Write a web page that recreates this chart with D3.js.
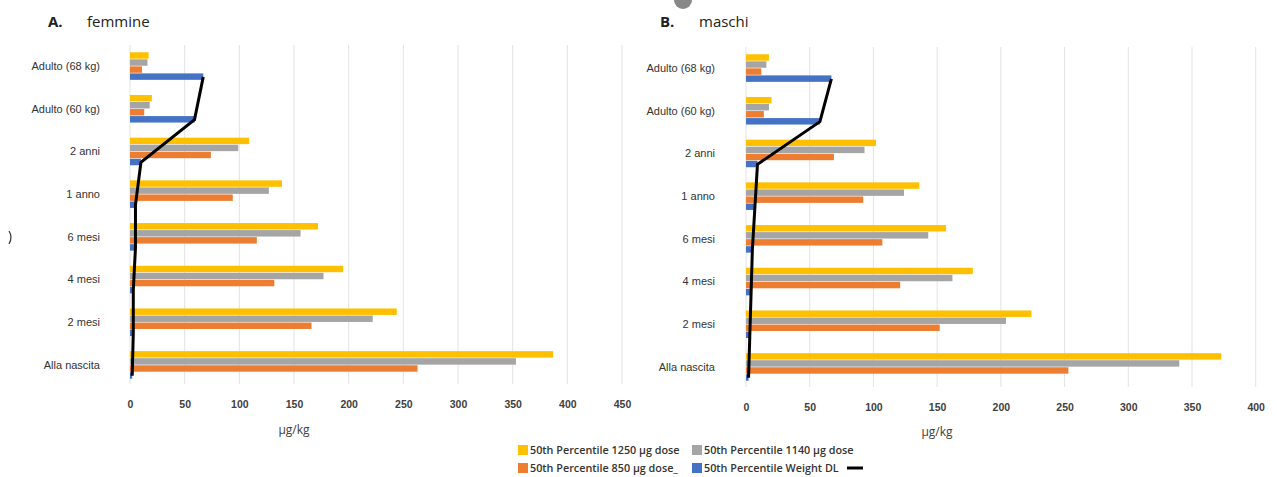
<!DOCTYPE html>
<html>
<head>
<meta charset="utf-8">
<script src="https://cdn.jsdelivr.net/npm/d3@7"></script>
<style>
  body { margin: 0; background: #fff; }
  svg { display: block; font-family: "Open Sans", sans-serif; }
</style>
</head>
<body>
<div id="chart"></div>
<script>
// Categories (top to bottom)
const categories = ["Adulto (68 kg)", "Adulto (60 kg)", "2 anni", "1 anno", "6 mesi", "4 mesi", "2 mesi", "Alla nascita"];

// A. femmine
const femmine1250 = [17, 20, 109, 139, 172, 195, 244, 387];
const femmine1140 = [16, 18, 99, 127, 156, 177, 222, 353];
const femmine850 = [11, 13, 74, 94, 116, 132, 166, 263];
const femmineWeightDL = [67, 59, 10, 5, 5, 3, 3, 2];
const femmineTicks = [0, 50, 100, 150, 200, 250, 300, 350, 400, 450];

// B. maschi
const maschi1250 = [18, 20, 102, 136, 157, 178, 224, 373];
const maschi1140 = [16, 18, 93, 124, 143, 162, 204, 340];
const maschi850 = [12, 14, 69, 92, 107, 121, 152, 253];
const maschiWeightDL = [67, 58, 9, 7, 5, 4, 3, 2];
const maschiTicks = [0, 50, 100, 150, 200, 250, 300, 350, 400];

const seriesKeys = ["d1250", "d1140", "d850", "dl"];
const seriesColors = ["#FFC000", "#A5A5A5", "#ED7D31", "#4472C4"];
const legendLabels = ["50th Percentile 1250 \u00b5g dose", "50th Percentile 1140 \u00b5g dose",
  "50th Percentile 850 \u00b5g dose_", "50th Percentile Weight DL"];

const width = 1277;
const height = 477;

const svg = d3.select("#chart")
  .append("svg")
  .attr("width", width)
  .attr("height", height);

function drawPanel(p) {
  const rows = categories.map((c, i) => ({
    cat: c,
    d1250: p.s1250[i], d1140: p.s1140[i], d850: p.s850[i], dl: p.dl[i]
  }));

  const x = d3.scaleLinear().domain([0, p.max]).range([p.x0, p.x1]);
  const y = d3.scaleBand().domain(categories).range([p.y0, p.y1])
    .paddingInner(0.34).paddingOuter(0.17);
  const yInner = d3.scaleBand().domain(seriesKeys).range([0, y.bandwidth()]);

  const g = svg.append("g");

  // gridlines
  g.selectAll("line.grid")
    .data(p.ticks)
    .enter()
    .append("line")
    .attr("x1", d => x(d)).attr("x2", d => x(d))
    .attr("y1", p.y0).attr("y2", p.gridBottom)
    .attr("stroke", "#e3e3e3")
    .attr("stroke-width", 1);

  // x axis labels
  const xAxis = g.append("g")
    .attr("transform", `translate(0, ${p.tickY})`)
    .call(d3.axisBottom(x).tickValues(p.ticks).tickSize(0).tickPadding(0));
  xAxis.select(".domain").remove();
  xAxis.selectAll("text")
    .attr("dy", "0.35em")
    .style("font-size", "10.5px")
    .style("font-weight", "600")
    .style("fill", "#404040");

  // y axis labels
  const yAxis = g.append("g")
    .attr("transform", `translate(${p.labelX}, 0)`)
    .call(d3.axisLeft(y).tickSize(0).tickPadding(0));
  yAxis.select(".domain").remove();
  yAxis.selectAll("text")
    .style("font-size", "11px")
    .style("fill", "#333");

  // bars
  const groups = g.selectAll("g.cat")
    .data(rows)
    .enter()
    .append("g")
    .attr("transform", d => `translate(0, ${y(d.cat)})`);

  groups.selectAll("rect")
    .data(d => seriesKeys.map((k, i) => ({ key: k, value: d[k], color: seriesColors[i] })))
    .enter()
    .append("rect")
    .attr("x", x(0))
    .attr("y", d => yInner(d.key))
    .attr("width", d => x(d.value) - x(0))
    .attr("height", yInner.bandwidth() - 0.6)
    .attr("fill", d => d.color);

  // Weight DL line
  const line = d3.line()
    .x(d => x(d.dl))
    .y(d => y(d.cat) + yInner("dl") + yInner.bandwidth() / 2);
  g.append("path")
    .datum(rows)
    .attr("d", line)
    .attr("fill", "none")
    .attr("stroke", "#000")
    .attr("stroke-width", 3);

  // axis title
  g.append("text")
    .attr("x", p.unitX)
    .attr("y", p.unitY)
    .attr("text-anchor", "middle")
    .style("font-size", "12px")
    .style("fill", "#404040")
    .text("\u00b5g/kg");

  // panel title
  g.append("text")
    .attr("x", p.titleX)
    .attr("y", 27)
    .style("font-size", "15px")
    .style("font-weight", "700")
    .style("fill", "#222")
    .text(p.letter);
  g.append("text")
    .attr("x", p.titleX + 39)
    .attr("y", 27)
    .style("font-size", "15px")
    .style("fill", "#222")
    .text(p.title);
}

drawPanel({
  letter: "A.", title: "femmine", titleX: 48,
  s1250: femmine1250, s1140: femmine1140, s850: femmine850, dl: femmineWeightDL,
  ticks: femmineTicks, max: 450,
  x0: 130, x1: 622, y0: 45, y1: 386.6, gridBottom: 384,
  tickY: 404, labelX: 100, unitX: 294, unitY: 434
});

drawPanel({
  letter: "B.", title: "maschi", titleX: 660,
  s1250: maschi1250, s1140: maschi1140, s850: maschi850, dl: maschiWeightDL,
  ticks: maschiTicks, max: 400,
  x0: 746, x1: 1255.7, y0: 47, y1: 388.6, gridBottom: 387,
  tickY: 407, labelX: 715, unitX: 937, unitY: 436
});

// legend
const legend = svg.append("g");
const legendPos = [[518, 450], [692, 450], [518, 468], [692, 468]];
legendLabels.forEach((lab, i) => {
  const [lx, ly] = legendPos[i];
  legend.append("rect")
    .attr("x", lx).attr("y", ly - 5)
    .attr("width", 10).attr("height", 10)
    .attr("fill", seriesColors[i]);
  legend.append("text")
    .attr("x", lx + 12).attr("y", ly)
    .attr("dy", "0.35em")
    .style("font-size", "10.8px")
    .style("font-weight", "600")
    .style("fill", "#333")
    .text(lab);
});
legend.append("line")
  .attr("x1", 847).attr("x2", 863)
  .attr("y1", 468).attr("y2", 468)
  .attr("stroke", "#000").attr("stroke-width", 3);

// stray marks from the source page
svg.append("path")
  .attr("d", "M674,0 A9,9 0 0,0 692,0")
  .attr("fill", "#888");
svg.append("path")
  .attr("d", "M9,231 Q13,237 9,244")
  .attr("fill", "none")
  .attr("stroke", "#333")
  .attr("stroke-width", 1.2);
</script>
</body>
</html>
